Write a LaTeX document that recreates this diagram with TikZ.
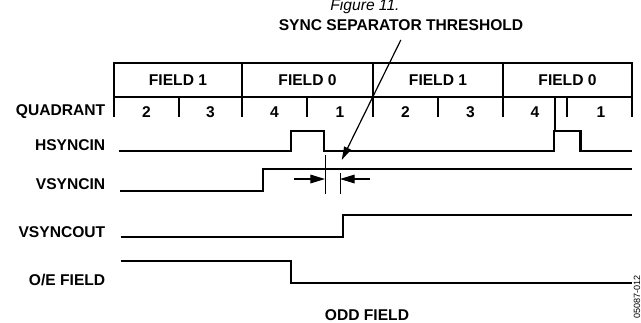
\documentclass[tikz,border=0pt]{standalone}
\usepackage{fontspec}
\setmainfont{Liberation Sans}
\usetikzlibrary{arrows.meta}
\begin{document}
\begin{tikzpicture}[x=0.75pt,y=-0.75pt,
  lbl/.style={font=\fontsize{11.7}{14}\selectfont\bfseries, inner sep=0pt},
  wave/.style={line width=1.7pt, line join=miter},
  tbl/.style={line width=1.3pt},
  tick/.style={line width=0.9pt},
  thinline/.style={line width=0.75pt},
  dimarrow/.style={line width=0.9pt, -{Triangle[length=11pt,width=6.5pt]}},
]
\useasboundingbox (0,0) rectangle (641,322);
% caption and threshold label
\node[font=\fontsize{11.7}{14}\selectfont\itshape, inner sep=0pt, anchor=base] (fig) at (365,10) {Figure 11.};
\node[lbl, anchor=base] (sync) at (401,30) {SYNC SEPARATOR THRESHOLD};
% table
\draw[tbl] (114,63.3) rectangle (632,96.7);
\foreach \x in {242,373,503} \draw[tbl] (\x,63.3) -- (\x,96.7);
\foreach \x in {114,179,242,307,373,438,503,567,632} \draw[tick] (\x,96.7) -- (\x,117);
\draw[tick] (555,96.7) -- (555,131);
\node[lbl, anchor=base] (f1a) at (178,85.7) {FIELD 1};
\node[lbl, anchor=base] (f0a) at (307.5,85.7) {FIELD 0};
\node[lbl, anchor=base] (f1b) at (438,85.7) {FIELD 1};
\node[lbl, anchor=base] (f0b) at (567.5,85.7) {FIELD 0};
\node[lbl, anchor=base] (q1) at (146.5,117) {2};
\node[lbl, anchor=base] (q2) at (210.5,117) {3};
\node[lbl, anchor=base] (q3) at (274.5,117) {4};
\node[lbl, anchor=base] (q4) at (340,117) {1};
\node[lbl, anchor=base] (q5) at (405.5,117) {2};
\node[lbl, anchor=base] (q6) at (470.5,117) {3};
\node[lbl, anchor=base] (q7) at (535,117) {4};
\node[lbl, anchor=base] (q8) at (601,117) {1};
% row labels
\node[lbl, anchor=base east] (lq) at (105.5,115.7) {QUADRANT};
\node[lbl, anchor=base east] (lh) at (105.5,150) {HSYNCIN};
\node[lbl, anchor=base east] (lv) at (105.5,189) {VSYNCIN};
\node[lbl, anchor=base east] (lvo) at (105.5,237.7) {VSYNCOUT};
\node[lbl, anchor=base east] (loe) at (105.5,285) {O/E FIELD};
\node[lbl, anchor=base] (odd) at (367,320.7) {ODD FIELD};
% waveforms
\draw[wave] (119,150.7) -| (291,131) -| (324,150.7) -| (554,131) -| (580.5,150.7) -- (632,150.7);
\draw[wave] (120,191) -| (263.3,168.7) -- (632,168.7);
\draw[wave] (120.7,237.3) -| (342.7,215) -- (632,215);
\draw[wave] (120.7,260.7) -| (291,283.3) -- (632,283.3);
% threshold markers
\draw[thinline] (325,155) -- (325,194);
\draw[thinline] (340,173) -- (340,194);
\coordinate (la) at (294,179);
\coordinate (lt) at (325,179);
\coordinate (ra) at (370,179);
\coordinate (rt) at (340,179);
\draw[dimarrow] (la) -- (lt);
\draw[dimarrow] (ra) -- (rt);
\coordinate (thtop) at (400.8,40);
\coordinate (thtip) at (341.7,160);
\draw[line width=0.9pt, -{Triangle[length=10pt,width=5.5pt]}] (thtop) -- (thtip);
% figure code
\node[font=\fontsize{6.8}{8}\selectfont, inner sep=0pt, rotate=90] (code) at (637,297) {05087-012};
\end{tikzpicture}
\end{document}
